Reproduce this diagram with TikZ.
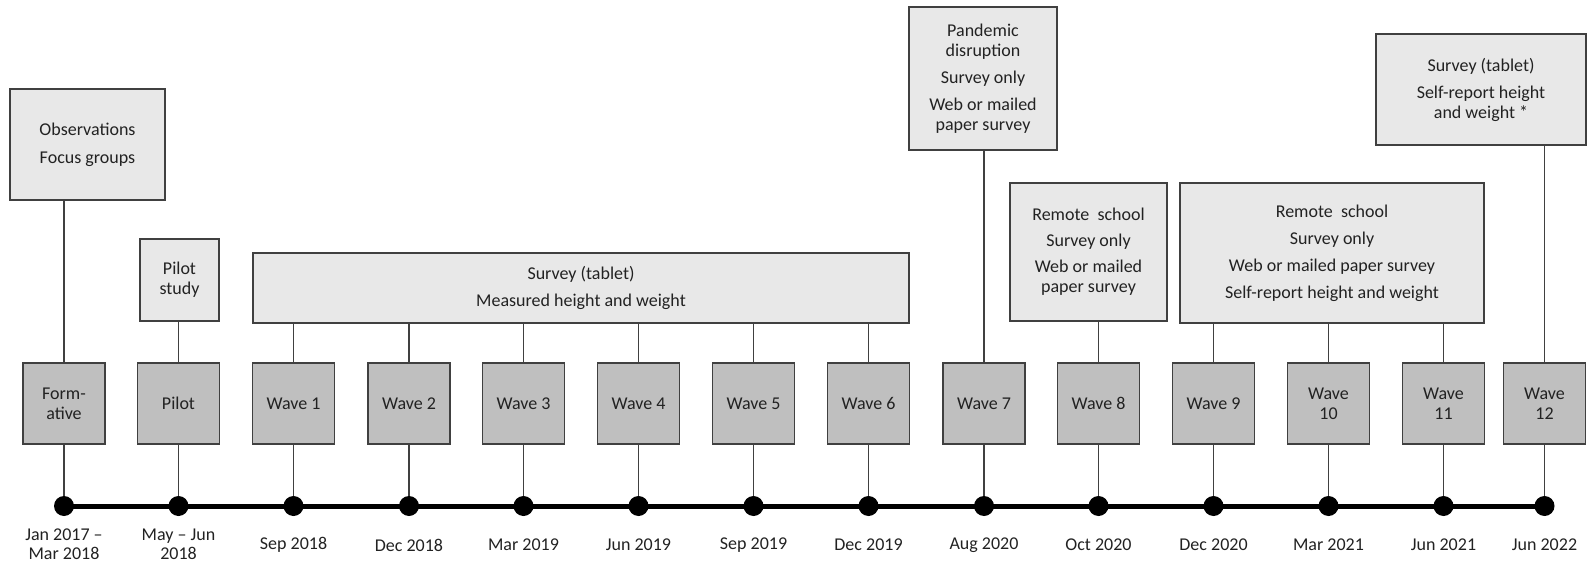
\documentclass[tikz,border=0pt]{standalone}
\usepackage{fontspec}
\setmainfont{Carlito}
\usepackage{tikz}
\definecolor{tlpale}{HTML}{E8E8E8}
\definecolor{tlmid}{HTML}{BFBFBF}
\definecolor{tledge}{HTML}{404040}
\definecolor{tltext}{HTML}{222222}

\begin{document}
\begin{tikzpicture}[x=1pt,y=-1pt,
  every node/.style={font=\fontsize{18}{20}\selectfont,text=tltext},
  wavebox/.style={draw=tledge,line width=1.3pt,fill=tlmid,minimum width=82pt,minimum height=81pt,inner sep=0pt,align=center},
  notebox/.style={draw=tledge,line width=1.3pt,fill=tlpale,inner sep=0pt,align=center},
  tick/.style={circle,fill=black,minimum size=20pt,inner sep=0pt},
  datelbl/.style={align=center,font=\fontsize{18}{19}\selectfont},
  link/.style={draw=tledge,line width=1.1pt}]
  \useasboundingbox (0,0) rectangle (1595,564);
  % upper notes
  \node[notebox,minimum width=155pt,minimum height=111pt] (obs) at (87.5,144.5) {Observations\\[8pt]Focus groups};
  \node[notebox,minimum width=79pt,minimum height=82pt] (pilotnote) at (179.5,280) {Pilot\\study};
  \node[notebox,minimum width=656pt,minimum height=70pt] (survey) at (581,288) {Survey (tablet)\\[7pt]Measured height and weight};
  \node[notebox,minimum width=148pt,minimum height=143pt] (pandemic) at (983,78.5) {Pandemic\\disruption\\[7pt]Survey only\\[7pt]Web or mailed\\paper survey};
  \node[notebox,minimum width=157pt,minimum height=138pt] (remoteA) at (1088.5,252) {Remote\ \ school\\[6pt]Survey only\\[6pt]Web or mailed\\paper survey};
  \node[notebox,minimum width=304pt,minimum height=140pt] (remoteB) at (1332,253) {Remote\ \ school\\[7pt]Survey only\\[7pt]Web or mailed paper survey\\[7pt]Self-report height and weight};
  \node[notebox,minimum width=210pt,minimum height=111pt] (tablet) at (1481,89.5) {Survey (tablet)\\[7pt]Self-report height\\and weight *};
  % waves
  \node[wavebox] (form) at (64,403.5) {Form-\\ative};
  \node[wavebox] (pilot) at (178.5,403.5) {Pilot};
  \node[wavebox] (wave1) at (293.5,403.5) {Wave 1};
  \node[wavebox] (wave2) at (409,403.5) {Wave 2};
  \node[wavebox] (wave3) at (523.5,403.5) {Wave 3};
  \node[wavebox] (wave4) at (638.5,403.5) {Wave 4};
  \node[wavebox] (wave5) at (753.5,403.5) {Wave 5};
  \node[wavebox] (wave6) at (868.5,403.5) {Wave 6};
  \node[wavebox] (wave7) at (984,403.5) {Wave 7};
  \node[wavebox] (wave8) at (1098.5,403.5) {Wave 8};
  \node[wavebox] (wave9) at (1213.5,403.5) {Wave 9};
  \node[wavebox] (wave10) at (1328.5,403.5) {Wave\\10};
  \node[wavebox] (wave11) at (1443.5,403.5) {Wave\\11};
  \node[wavebox] (wave12) at (1544.5,403.5) {Wave\\12};
  % timeline dots
  \node[tick] (tform) at (64,506) {};
  \node[tick] (tpilot) at (178.5,506) {};
  \node[tick] (t1) at (293.5,506) {};
  \node[tick] (t2) at (409,506) {};
  \node[tick] (t3) at (523.5,506) {};
  \node[tick] (t4) at (638.5,506) {};
  \node[tick] (t5) at (753.5,506) {};
  \node[tick] (t6) at (868.5,506) {};
  \node[tick] (t7) at (984,506) {};
  \node[tick] (t8) at (1098.5,506) {};
  \node[tick] (t9) at (1213.5,506) {};
  \node[tick] (t10) at (1328.5,506) {};
  \node[tick] (t11) at (1443.5,506) {};
  \node[tick] (t12) at (1544.5,506) {};
  \draw[line width=5pt] (tform.center) -- (t12.center);
  % dates
  \node[datelbl] (dform) at (64,544) {Jan 2017 --\\Mar 2018};
  \node[datelbl] (dpilot) at (178.5,544) {May -- Jun\\2018};
  \node[datelbl] (d1) at (293.5,545) {Sep 2018};
  \node[datelbl] (d2) at (409,545) {Dec 2018};
  \node[datelbl] (d3) at (523.5,545) {Mar 2019};
  \node[datelbl] (d4) at (638.5,545) {Jun 2019};
  \node[datelbl] (d5) at (753.5,545) {Sep 2019};
  \node[datelbl] (d6) at (868.5,545) {Dec 2019};
  \node[datelbl] (d7) at (984,545) {Aug 2020};
  \node[datelbl] (d8) at (1098.5,545) {Oct 2020};
  \node[datelbl] (d9) at (1213.5,545) {Dec 2020};
  \node[datelbl] (d10) at (1328.5,545) {Mar 2021};
  \node[datelbl] (d11) at (1443.5,545) {Jun 2021};
  \node[datelbl] (d12) at (1544.5,545) {Jun 2022};
  % wave to timeline
  \draw[link] (form) -- (tform);
  \draw[link] (pilot) -- (tpilot);
  \draw[link] (wave1) -- (t1);
  \draw[link] (wave2) -- (t2);
  \draw[link] (wave3) -- (t3);
  \draw[link] (wave4) -- (t4);
  \draw[link] (wave5) -- (t5);
  \draw[link] (wave6) -- (t6);
  \draw[link] (wave7) -- (t7);
  \draw[link] (wave8) -- (t8);
  \draw[link] (wave9) -- (t9);
  \draw[link] (wave10) -- (t10);
  \draw[link] (wave11) -- (t11);
  \draw[link] (wave12) -- (t12);
  % notes to waves
  \draw[link] (obs.south -| form.north) -- (form.north);
  \draw[link] (pilotnote.south -| pilot.north) -- (pilot.north);
  \draw[link] (survey.south -| wave1.north) -- (wave1.north);
  \draw[link] (survey.south -| wave2.north) -- (wave2.north);
  \draw[link] (survey.south -| wave3.north) -- (wave3.north);
  \draw[link] (survey.south -| wave4.north) -- (wave4.north);
  \draw[link] (survey.south -| wave5.north) -- (wave5.north);
  \draw[link] (survey.south -| wave6.north) -- (wave6.north);
  \draw[link] (pandemic.south -| wave7.north) -- (wave7.north);
  \draw[link] (remoteA.south -| wave8.north) -- (wave8.north);
  \draw[link] (remoteB.south -| wave9.north) -- (wave9.north);
  \draw[link] (remoteB.south -| wave10.north) -- (wave10.north);
  \draw[link] (remoteB.south -| wave11.north) -- (wave11.north);
  \draw[link] (tablet.south -| wave12.north) -- (wave12.north);
\end{tikzpicture}
\end{document}
